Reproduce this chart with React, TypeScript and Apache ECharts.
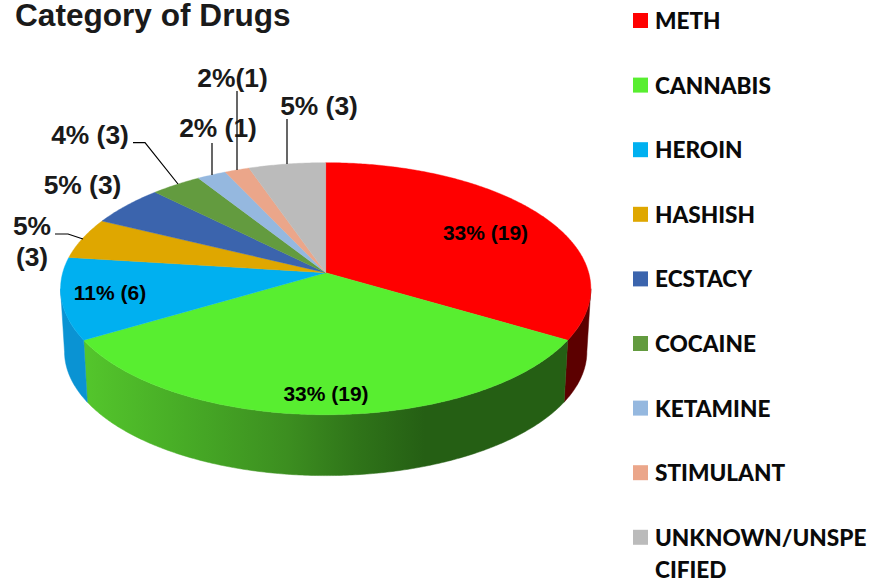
import React, { useEffect, useRef } from "react";
import * as echarts from "echarts";

const categories = ["METH", "CANNABIS", "HEROIN", "HASHISH", "ECSTACY", "COCAINE", "KETAMINE", "STIMULANT", "UNKNOWN/UNSPECIFIED"];
const shares = [33.5, 33, 10.5, 5.25, 5.25, 3.5, 2, 1.7, 5.3];
const sliceLabels = ["33% (19)", "33% (19)", "11% (6)", "5%\n(3)", "5% (3)", "4% (3)", "2% (1)", "2%(1)", "5% (3)"];
const colors = ["#FF0000", "#58EE30", "#00B0F0", "#DFA700", "#3B64AD", "#639B3F", "#95B8DF", "#EBA68A", "#BBBBBB"];
const total = shares.reduce((a, b) => a + b, 0);

const APEX_X = 325.7, APEX_Y = 272.7, R = 263, K = 124, P = 0.127, D = 63, SHRINK = 0.985;
const FRONT_START = Math.PI - Math.acos(P);
const FRONT_END = Math.PI + Math.acos(P);

const topPoint = (a: number) => {
  const u = Math.sin(a), v = -Math.cos(a), w = 1 - P * v;
  return [APEX_X + (R * u) / w, APEX_Y + (K * v) / w];
};
const bottomPoint = (a: number) => {
  const u = Math.sin(a), v = -Math.cos(a), w = 1 - P * v;
  return [APEX_X + (SHRINK * R * u) / w, APEX_Y + (SHRINK * K * v) / w + D];
};
const arcAngles = (a0: number, a1: number) => {
  const n = Math.max(2, Math.ceil((a1 - a0) / 0.01));
  const out: number[] = [];
  for (let i = 0; i <= n; i++) out.push(a0 + ((a1 - a0) * i) / n);
  return out;
};

const wallFill = (i: number): any => {
  if (i === 0) return "#5C0000";
  if (i === 2) return "#0A93D3";
  return new echarts.graphic.LinearGradient(83, 0, 425, 0, [
    { offset: 0, color: "#54C62C" },
    { offset: 0.3, color: "#47AB26" },
    { offset: 0.6, color: "#3C8E20" },
    { offset: 0.8, color: "#2F7419" },
    { offset: 1, color: "#255F14" },
  ], true);
};

const makeSeries = (name: string, i: number) => {
  const before = shares.slice(0, i).reduce((a, b) => a + b, 0);
  return {
    type: "custom",
    name,
    coordinateSystem: "none",
    silent: true,
    itemStyle: { color: colors[i] },
    data: [[shares[i]]],
    renderItem: (_p: any, api: any) => {
      const a0 = (before / total) * 2 * Math.PI;
      const a1 = a0 + (api.value(0) / total) * 2 * Math.PI;
      const children: any[] = [];
      const w0 = Math.max(a0, FRONT_START), w1 = Math.min(a1, FRONT_END);
      if (w1 > w0) {
        const angles = arcAngles(w0, w1);
        const points = [...angles.map(topPoint), ...angles.slice().reverse().map(bottomPoint)];
        const fill = wallFill(i);
        children.push({ type: "polygon", shape: { points }, style: { fill, stroke: fill, lineWidth: 0.5 } });
      }
      const points = [[APEX_X, APEX_Y], ...arcAngles(a0, a1).map(topPoint)];
      children.push({ type: "polygon", shape: { points }, style: { fill: colors[i], stroke: colors[i], lineWidth: 0.4 } });
      return { type: "group", children };
    },
  };
};

const outer = { font: 'bold 26.4px "Liberation Sans", Arial, sans-serif', fill: "#1a1a1a" };
const inner = { font: 'bold 21px "Liberation Sans", Arial, sans-serif', fill: "#000" };
const labelAt = (i: number, x: number, y: number, st: any, align = "center") => ({
  type: "text", x, y, z: 20,
  style: { text: sliceLabels[i], align, verticalAlign: "middle", lineHeight: 31, ...st },
});
const leader = (pts: number[][]) => ({
  type: "polyline", z: 15, shape: { points: pts },
  style: { stroke: "#000", lineWidth: 1.2, fill: "none" },
});

export default function App() {
  const ref = useRef<HTMLDivElement>(null);
  useEffect(() => {
    document.body.style.margin = "0";
    const chart = echarts.init(ref.current!, undefined, { renderer: "svg" });
    chart.setOption({
      animation: false,
      backgroundColor: "#fff",
      title: {
        text: "Category of Drugs", left: 15, top: 0, padding: 0,
        textStyle: { fontFamily: '"Liberation Sans", Arial, sans-serif', fontWeight: "bold", fontSize: 31.6, lineHeight: 29, color: "#1a1a1a" },
      },
      legend: {
        orient: "vertical", left: 633, top: 5.5, padding: 0,
        itemWidth: 15, itemHeight: 15, itemGap: 34.6, icon: "rect",
        data: categories,
        selectedMode: false,
        formatter: (n: string) => (n.length > 13 ? n.slice(0, 13) : n),
        textStyle: { fontFamily: "Lato, sans-serif", fontWeight: 900, fontSize: 22.6, color: "#0a0a0a", lineHeight: 30, padding: [0, 0, 0, 2] },
      },
      graphic: [
        leader([[133, 142.7], [145, 142.7], [178, 184]]),
        leader([[212, 143], [212, 175]]),
        leader([[237, 91], [237, 170]]),
        leader([[287, 119], [287, 164]]),
        leader([[55, 234], [68, 234], [83, 239]]),
        labelAt(0, 485.5, 232, inner),
        labelAt(1, 326, 393, inner),
        labelAt(2, 110, 292, inner),
        labelAt(3, 32, 241, outer),
        labelAt(4, 82.5, 185, outer),
        labelAt(5, 90, 135, outer),
        labelAt(6, 218, 128, outer),
        labelAt(7, 232.5, 78, outer),
        labelAt(8, 319, 106, outer),
        { type: "text", x: 655, y: 569.5, z: 20, style: { text: categories[8].slice(13), align: "left", verticalAlign: "middle", lineHeight: 18, font: '900 22.6px Lato, sans-serif', fill: "#0a0a0a" } },
      ],
      series: categories.map(makeSeries),
    });
    return () => chart.dispose();
  }, []);
  return <div ref={ref} style={{ width: 871, height: 579, position: "absolute", left: 0, top: 0 }} />;
}
